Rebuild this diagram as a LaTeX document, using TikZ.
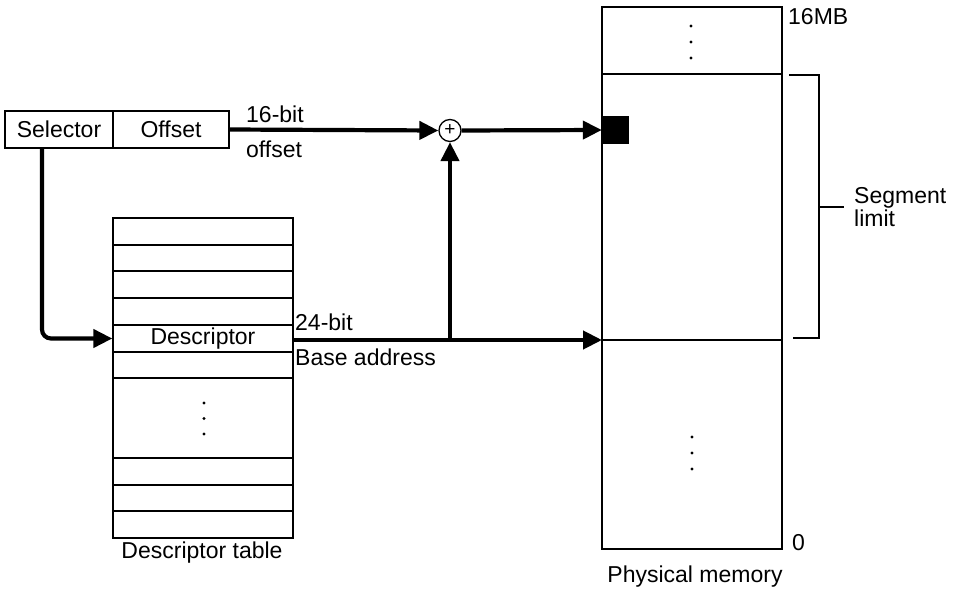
\documentclass[tikz,border=0pt]{standalone}
\usepackage{fontspec}
\setmainfont{Liberation Sans}
\usetikzlibrary{arrows.meta}
\begin{document}
\begin{tikzpicture}[x=1pt,y=-1pt,
  font=\fontsize{23}{27}\selectfont,
  thin line/.style={line width=1.3pt},
  thick line/.style={line width=4.2pt},
  arr/.style={thick line,-{Triangle[length=19pt,width=18pt]}},
  cell/.style={draw,thin line,inner sep=0pt,minimum height=37pt},
  dot/.style={circle,fill,inner sep=0pt,minimum size=3.4pt}]
\useasboundingbox (0,0) rectangle (959,589);
% selector / offset
\node[cell,minimum width=108pt] (sel) at (59,129.5) {Selector};
\node[cell,minimum width=116pt] (off) at (171,129.5) {Offset};
% adder
\node[circle,draw,thin line,minimum size=22pt,inner sep=0pt] (add) at (450,130.5) {\fontsize{19}{19}\selectfont +};
% descriptor table
\draw[thin line] (113,218) rectangle (293,538);
\foreach \yy in {245,271,298,378,458,485,511}
  \draw[thin line] (113,\yy) -- (293,\yy);
\node[draw,thin line,minimum width=180pt,minimum height=27pt,inner sep=0pt] (desc) at (203,338.5) {Descriptor};
\node[dot] (dt1) at (204,403) {};
\node[dot] (dt2) at (204,418.5) {};
\node[dot] (dt3) at (204,434) {};
\node (dtab) at (202,553) {Descriptor table};
% physical memory
\node[draw,thin line,minimum width=180pt,minimum height=542pt,inner sep=0pt] (mem) at (692,278) {};
\draw[thin line] (602,74) coordinate (segtop) -- (782,74);
\draw[thin line] (602,340) coordinate (base) -- (782,340);
\node[dot] (m1) at (691,26) {};
\node[dot] (m2) at (691,42) {};
\node[dot] (m3) at (691,58) {};
\node[dot] (m4) at (692,437) {};
\node[dot] (m5) at (692,453) {};
\node[dot] (m6) at (692,469) {};
\node[fill,inner sep=0pt,minimum width=27pt,minimum height=28pt] (blk) at (615.5,130) {};
\node[anchor=west,inner sep=0pt] (mb) at (788,17) {16MB};
\node[anchor=west,inner sep=0pt] (zero) at (792,543) {0};
\node (pm) at (695,577) {Physical memory};
% segment limit bracket
\draw[thin line] (789,75) -- (819,75) -- (819,338) -- (793,338);
\draw[thin line] (819,207) coordinate (bm) -- (844,207) coordinate (bt);
\node[anchor=west,align=left,inner sep=0pt,font=\fontsize{23}{23.5}\selectfont] (seg) at (854,207) {Segment\\limit};
% connectors
\draw[arr] (off.east) -- (add.west);
\draw[arr] (add.east) -- (blk.west);
\draw[arr,rounded corners=9pt] ([xshift=-17pt]sel.south) |- (desc.west);
\draw[arr] (desc.east |- base) -- (base);
\draw[arr] (450,340) coordinate (j) -- (add.south);
% labels
\node[anchor=west,inner sep=0pt] (l16) at (246,114) {16-bit};
\node[anchor=west,inner sep=0pt] (loff) at (246,149) {offset};
\node[anchor=west,inner sep=0pt] (l24) at (295,322) {24-bit};
\node[anchor=west,inner sep=0pt] (lba) at (295,357) {Base address};
\end{tikzpicture}
\end{document}
